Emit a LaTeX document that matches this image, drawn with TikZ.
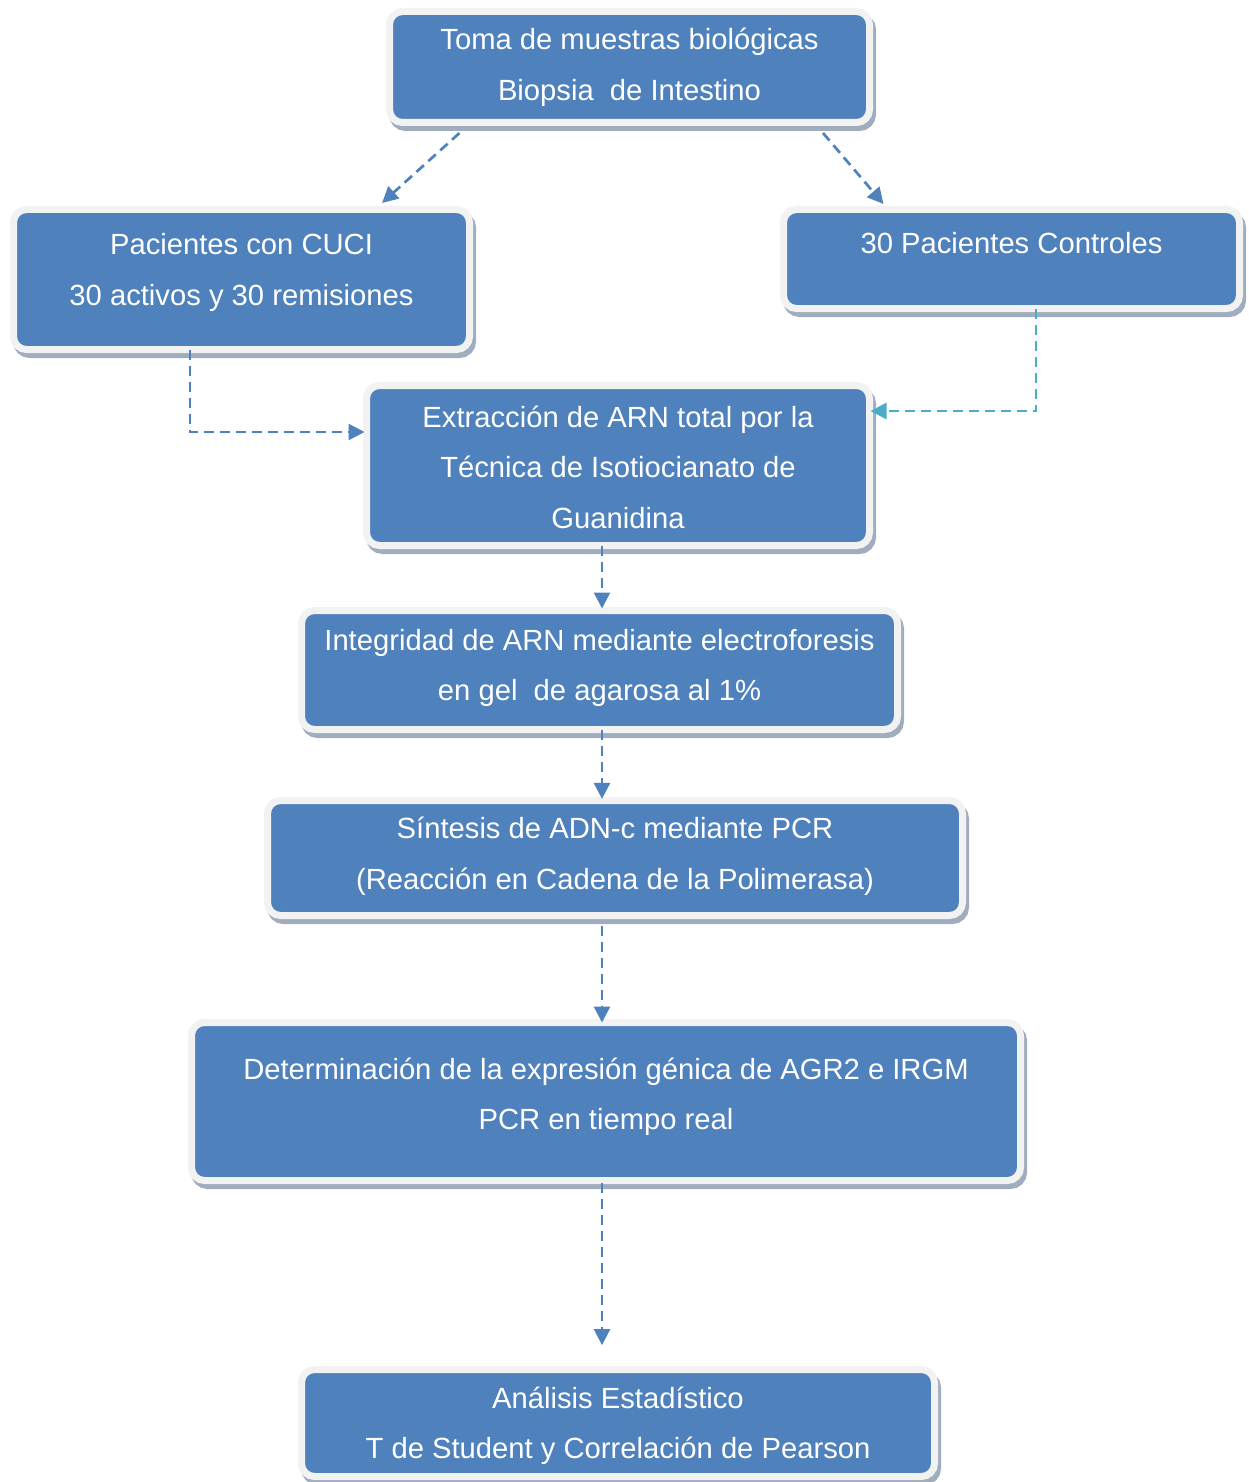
\documentclass[tikz,border=0pt]{standalone}
\usepackage{fontspec}
\setmainfont{Liberation Sans}
\usetikzlibrary{arrows.meta,calc}
\definecolor{boxblue}{HTML}{4F81BD}
\definecolor{boxrim}{HTML}{F2F2F2}
\definecolor{boxshadow}{HTML}{A0ADBE}
\definecolor{tealarrow}{HTML}{4BACC6}
\newcommand\mlines[1]{\begin{tabular}[t]{@{}c@{}}#1\end{tabular}}
\begin{document}
\begin{tikzpicture}[x=0.5pt,y=-0.5pt,
  flowbox/.style={rectangle, rounded corners=6.5pt, fill=boxblue, draw=boxrim,
    line width=3.5pt, inner sep=0pt, outer sep=0pt,
    preaction={draw=boxshadow, fill=boxshadow, line width=3.5pt,
      transform canvas={shift={(1.5pt,-2.5pt)}}}},
  boxtext/.style={anchor=base, inner sep=0pt, text=white,
    font=\fontsize{14.6}{25.25}\selectfont},
  flow/.style={draw=boxblue, line width=1.35pt, dash pattern=on 5pt off 3pt,
    -{Triangle[length=8pt,width=8pt]}},
  flowteal/.style={flow, draw=tealarrow, -{Triangle[length=8pt,width=8pt,fill=tealarrow]}}
]
\useasboundingbox (0,0) rectangle (1248,1482);

% boxes
\node[flowbox, minimum width=240pt, minimum height=55.5pt] (b1) at (629.5,67) {};
\node[flowbox, minimum width=228pt, minimum height=70pt] (b2) at (241.5,279.5) {};
\node[flowbox, minimum width=228pt, minimum height=49.5pt] (b3) at (1011.5,259) {};
\node[flowbox, minimum width=251.5pt, minimum height=80pt] (b4) at (618,465.5) {};
\node[flowbox, minimum width=298pt, minimum height=59.5pt] (b5) at (599.5,670) {};
\node[flowbox, minimum width=347.5pt, minimum height=57.5pt] (b6) at (615,858) {};
\node[flowbox, minimum width=414.5pt, minimum height=79pt] (b7) at (606,1101.5) {};
\node[flowbox, minimum width=316.5pt, minimum height=53.5pt] (b8) at (618,1423) {};

% texts
\node[boxtext] (t1) at (629.5,50) {\mlines{Toma de muestras biológicas\\Biopsia\ \ de Intestino}};
\node[boxtext] (t2) at (241.5,255) {\mlines{Pacientes con CUCI\\30 activos y 30 remisiones}};
\node[boxtext] (t3) at (1011.5,254) {30 Pacientes Controles};
\node[boxtext] (t4) at (618,427) {\mlines{Extracción de ARN total por la\\Técnica de Isotiocianato de\\Guanidina}};
\node[boxtext] (t5) at (599.5,650) {\mlines{Integridad de ARN mediante electroforesis\\en gel\ \ de agarosa al 1\%}};
\node[boxtext] (t6) at (615,838.5) {\mlines{Síntesis de ADN-c mediante PCR\\(Reacción en Cadena de la Polimerasa)}};
\node[boxtext] (t7) at (606,1079) {\mlines{Determinación de la expresión génica de AGR2 e IRGM\\PCR en tiempo real}};
\node[boxtext] (t8) at (618,1408) {\mlines{Análisis Estadístico\\T de Student y Correlación de Pearson}};

% connectors
\coordinate (ax) at (602,0);
\draw[flow] ($(b1.south west)+(70,10.5)$) -- ($(b2.north east)+(-87.5,-6.5)$);
\draw[flow] ($(b1.south east)+(-46.5,10.5)$) -- ($(b3.north west)+(100,-5.5)$);
\draw[flow] ($(b2.south west)+(176.5,0)$) |- ($(b4.north west)+(-2,46.5)$);
\draw[flowteal] ($(b3.south west)+(252.5,0)$) |- ($(b4.north east)+(1,25.5)$);
\draw[flow, shorten >=1pt] (b4.south -| ax) -- (b5.north -| ax);
\draw[flow, shorten >=0.8pt] (b5.south -| ax) -- (b6.north -| ax);
\draw[flow, shorten <=5pt] (b6.south -| ax) -- (b7.north -| ax);
\draw[flow, shorten <=1.2pt, shorten >=12.2pt] (b7.south -| ax) -- (b8.north -| ax);
\end{tikzpicture}
\end{document}
